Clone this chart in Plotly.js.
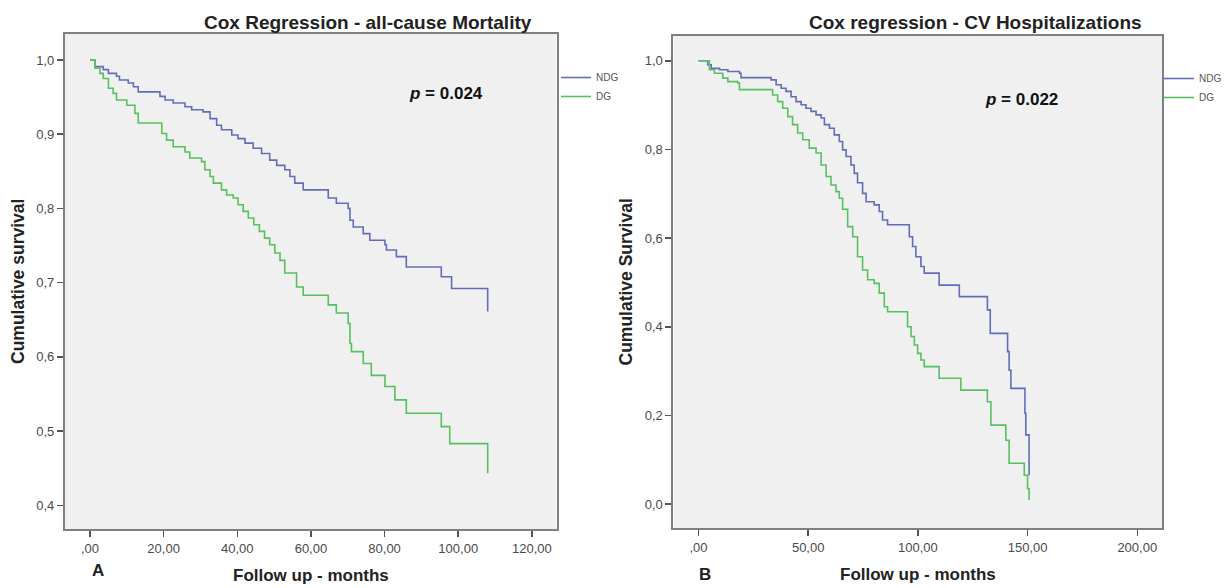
<!DOCTYPE html>
<html>
<head>
<meta charset="utf-8">
<script src="https://cdn.plot.ly/plotly-3.0.1.min.js"></script>
<style>
  html, body { margin: 0; padding: 0; background: #ffffff; }
  #chart { width: 1227px; height: 588px; }
</style>
</head>
<body>
<div id="chart"></div>
<script>
// ---------- Panel A: all-cause mortality ----------
const monthsA_NDG = [0, 1.4, 3.6, 5.0, 7.2, 8.0, 10.4, 11.8, 13.1, 19.0, 20.4, 22.6, 25.8, 27.6, 30.7, 32.6, 34.4, 35.7, 38.5, 40.2, 42.1, 44.3, 46.6, 48.8, 50.7, 52.9, 54.3, 55.6, 57.9, 64.7, 66.9, 70.1, 70.6, 71.5, 74.2, 76.0, 80.1, 80.5, 83.2, 85.9, 95.4, 98.2, 108.0, 108.0];
const survA_NDG   = [1.0, 0.991, 0.987, 0.982, 0.978, 0.973, 0.969, 0.964, 0.957, 0.951, 0.946, 0.942, 0.937, 0.933, 0.930, 0.921, 0.912, 0.906, 0.899, 0.894, 0.888, 0.881, 0.874, 0.865, 0.858, 0.852, 0.843, 0.834, 0.825, 0.814, 0.807, 0.800, 0.784, 0.775, 0.766, 0.757, 0.751, 0.744, 0.735, 0.721, 0.708, 0.692, 0.692, 0.661];

const monthsA_DG = [0, 1.4, 2.7, 3.6, 5.0, 6.3, 7.2, 10.0, 12.2, 13.1, 19.5, 20.8, 22.6, 25.8, 27.1, 30.3, 31.2, 32.6, 33.5, 35.7, 37.1, 38.9, 40.2, 41.6, 43.0, 44.5, 46.0, 47.4, 48.8, 50.2, 51.6, 52.9, 56.1, 57.9, 64.7, 66.9, 70.1, 70.6, 71.0, 74.2, 76.4, 80.1, 82.8, 85.9, 95.4, 97.7, 108.0, 108.0];
const survA_DG   = [1.0, 0.989, 0.982, 0.975, 0.962, 0.955, 0.946, 0.939, 0.928, 0.915, 0.901, 0.892, 0.883, 0.876, 0.868, 0.863, 0.852, 0.843, 0.834, 0.825, 0.818, 0.814, 0.805, 0.796, 0.787, 0.778, 0.769, 0.760, 0.751, 0.740, 0.730, 0.713, 0.694, 0.683, 0.670, 0.659, 0.645, 0.618, 0.607, 0.591, 0.575, 0.560, 0.542, 0.524, 0.506, 0.483, 0.483, 0.443];

// ---------- Panel B: CV hospitalizations ----------
const monthsB_NDG = [0, 4.2, 5.8, 9.6, 13.4, 18.7, 19.4, 33.1, 35.4, 37.7, 39.9, 42.2, 44.5, 46.8, 49.0, 51.3, 53.6, 55.9, 57.4, 59.7, 61.9, 64.2, 65.7, 67.3, 69.5, 71.0, 72.5, 74.8, 76.4, 80.1, 82.4, 83.9, 86.2, 96.1, 97.6, 99.1, 101.4, 102.9, 109.7, 118.9, 131.7, 133.0, 140.9, 141.6, 142.4, 148.8, 149.2, 150.7, 150.7];
const survB_NDG   = [1.0, 0.991, 0.983, 0.980, 0.976, 0.972, 0.962, 0.957, 0.946, 0.938, 0.931, 0.919, 0.908, 0.901, 0.893, 0.886, 0.878, 0.871, 0.856, 0.848, 0.833, 0.818, 0.799, 0.784, 0.765, 0.746, 0.725, 0.701, 0.682, 0.675, 0.660, 0.641, 0.630, 0.603, 0.581, 0.558, 0.536, 0.521, 0.494, 0.468, 0.438, 0.385, 0.344, 0.302, 0.261, 0.205, 0.156, 0.156, 0.065];

const monthsB_DG = [0, 5.0, 7.3, 11.1, 13.4, 17.9, 18.7, 33.8, 36.1, 38.4, 40.7, 42.9, 45.2, 47.5, 50.5, 53.6, 55.9, 58.2, 60.4, 62.7, 64.2, 65.7, 68.0, 70.3, 72.5, 74.8, 77.1, 80.1, 82.4, 84.7, 86.2, 95.3, 96.9, 98.4, 99.9, 101.4, 102.9, 109.7, 119.6, 131.7, 133.3, 140.1, 141.6, 148.5, 150.0, 150.7];
const survB_DG   = [1.0, 0.980, 0.972, 0.961, 0.953, 0.950, 0.935, 0.923, 0.908, 0.893, 0.874, 0.856, 0.837, 0.822, 0.803, 0.792, 0.765, 0.739, 0.720, 0.705, 0.690, 0.665, 0.626, 0.603, 0.558, 0.528, 0.506, 0.498, 0.476, 0.445, 0.434, 0.400, 0.378, 0.359, 0.340, 0.325, 0.310, 0.284, 0.257, 0.231, 0.178, 0.144, 0.092, 0.065, 0.035, 0.009];

// ---------- tick labels ----------
const xTicksA = [0, 20, 40, 60, 80, 100, 120];
const xTickTextA = [',00', '20,00', '40,00', '60,00', '80,00', '100,00', '120,00'];
const yTicksA = [0.4, 0.5, 0.6, 0.7, 0.8, 0.9, 1.0];
const yTickTextA = ['0,4', '0,5', '0,6', '0,7', '0,8', '0,9', '1,0'];
const xTicksB = [0, 50, 100, 150, 200];
const xTickTextB = [',00', '50,00', '100,00', '150,00', '200,00'];
const yTicksB = [0, 0.2, 0.4, 0.6, 0.8, 1.0];
const yTickTextB = ['0,0', '0,2', '0,4', '0,6', '0,8', '1,0'];

const seriesNames = ['NDG', 'DG'];
const titles = ['Cox Regression - all-cause Mortality', 'Cox regression - CV Hospitalizations'];
const pValues = ['0.024', '0.022'];

const BLUE = '#646cba';
const GREEN = '#58c060';
const FONT = 'Liberation Sans, Arial, sans-serif';
const W = 1227, H = 588;
const px = v => v / W;
const py = v => 1 - v / H;

function trace(x, y, name, color, xa, ya, leg) {
  return {
    x: x, y: y, name: name, type: 'scatter', mode: 'lines',
    line: { shape: 'hv', color: color, width: 1.6 },
    xaxis: xa, yaxis: ya, legend: leg, hoverinfo: 'x+y+name'
  };
}

const data = [
  trace(monthsA_NDG, survA_NDG, seriesNames[0], BLUE, 'x', 'y', 'legend'),
  trace(monthsA_DG, survA_DG, seriesNames[1], GREEN, 'x', 'y', 'legend'),
  trace(monthsB_NDG, survB_NDG, seriesNames[0], BLUE, 'x2', 'y2', 'legend2'),
  trace(monthsB_DG, survB_DG, seriesNames[1], GREEN, 'x2', 'y2', 'legend2')
];

const axisCommon = {
  showgrid: false, zeroline: false, showline: true, mirror: true,
  linecolor: '#808080', linewidth: 2,
  ticks: 'outside', ticklen: 6, tickwidth: 1.5, tickcolor: '#555',
  tickfont: { family: FONT, size: 13, color: '#4a4a4a' },
  tickmode: 'array', fixedrange: true
};

const layout = {
  width: W, height: H,
  margin: { l: 0, r: 0, t: 0, b: 0 },
  paper_bgcolor: '#ffffff',
  plot_bgcolor: '#f0f0f0',
  showlegend: true,
  xaxis: Object.assign({}, axisCommon, {
    domain: [px(65), px(557)], range: [-6.8, 126.7],
    tickvals: xTicksA, ticktext: xTickTextA, anchor: 'y'
  }),
  yaxis: Object.assign({}, axisCommon, {
    domain: [py(529), py(34)], range: [0.368, 1.035],
    tickvals: yTicksA, ticktext: yTickTextA, anchor: 'x'
  }),
  xaxis2: Object.assign({}, axisCommon, {
    domain: [px(674), px(1163)], range: [-11.4, 211.3],
    tickvals: xTicksB, ticktext: xTickTextB, anchor: 'y2'
  }),
  yaxis2: Object.assign({}, axisCommon, {
    domain: [py(528), py(36)], range: [-0.054, 1.056],
    tickvals: yTicksB, ticktext: yTickTextB, anchor: 'x2'
  }),
  legend: {
    x: px(556), y: py(63), xanchor: 'left', yanchor: 'top',
    bgcolor: 'rgba(0,0,0,0)', borderwidth: 0,
    font: { family: FONT, size: 10, color: '#555' },
    itemwidth: 30, tracegroupgap: 0
  },
  legend2: {
    x: px(1160), y: py(64), xanchor: 'left', yanchor: 'top',
    bgcolor: 'rgba(0,0,0,0)', borderwidth: 0,
    font: { family: FONT, size: 10, color: '#555' },
    itemwidth: 30, tracegroupgap: 0
  },
  annotations: [
    { text: '<b>' + titles[0] + '</b>', x: px(368), y: py(23), xref: 'paper', yref: 'paper',
      xanchor: 'center', yanchor: 'middle', showarrow: false,
      font: { family: FONT, size: 19, color: '#222' } },
    { text: '<b>' + titles[1] + '</b>', x: px(976), y: py(23), xref: 'paper', yref: 'paper',
      xanchor: 'center', yanchor: 'middle', showarrow: false,
      font: { family: FONT, size: 19, color: '#222' } },
    { text: '<b><i>p</i> = ' + pValues[0] + '</b>', x: px(446), y: py(93), xref: 'paper', yref: 'paper',
      xanchor: 'center', yanchor: 'middle', showarrow: false,
      font: { family: FONT, size: 17, color: '#111' } },
    { text: '<b><i>p</i> = ' + pValues[1] + '</b>', x: px(1022), y: py(100), xref: 'paper', yref: 'paper',
      xanchor: 'center', yanchor: 'middle', showarrow: false,
      font: { family: FONT, size: 17, color: '#111' } },
    { text: '<b>Cumulative survival</b>', x: px(18), y: py(281), xref: 'paper', yref: 'paper',
      xanchor: 'center', yanchor: 'middle', textangle: -90, showarrow: false,
      font: { family: FONT, size: 17.5, color: '#222' } },
    { text: '<b>Cumulative Survival</b>', x: px(627), y: py(282), xref: 'paper', yref: 'paper',
      xanchor: 'center', yanchor: 'middle', textangle: -90, showarrow: false,
      font: { family: FONT, size: 17.5, color: '#222' } },
    { text: '<b>Follow up - months</b>', x: px(311), y: py(575), xref: 'paper', yref: 'paper',
      xanchor: 'center', yanchor: 'middle', showarrow: false,
      font: { family: FONT, size: 17, color: '#222' } },
    { text: '<b>Follow up - months</b>', x: px(919), y: py(574), xref: 'paper', yref: 'paper',
      xanchor: 'center', yanchor: 'middle', showarrow: false,
      font: { family: FONT, size: 17, color: '#222' } },
    { text: '<b>A</b>', x: px(98), y: py(570), xref: 'paper', yref: 'paper',
      xanchor: 'center', yanchor: 'middle', showarrow: false,
      font: { family: FONT, size: 17, color: '#222' } },
    { text: '<b>B</b>', x: px(706), y: py(574), xref: 'paper', yref: 'paper',
      xanchor: 'center', yanchor: 'middle', showarrow: false,
      font: { family: FONT, size: 17, color: '#222' } }
  ]
};

Plotly.newPlot('chart', data, layout, { displayModeBar: false, staticPlot: true });
</script>
</body>
</html>
